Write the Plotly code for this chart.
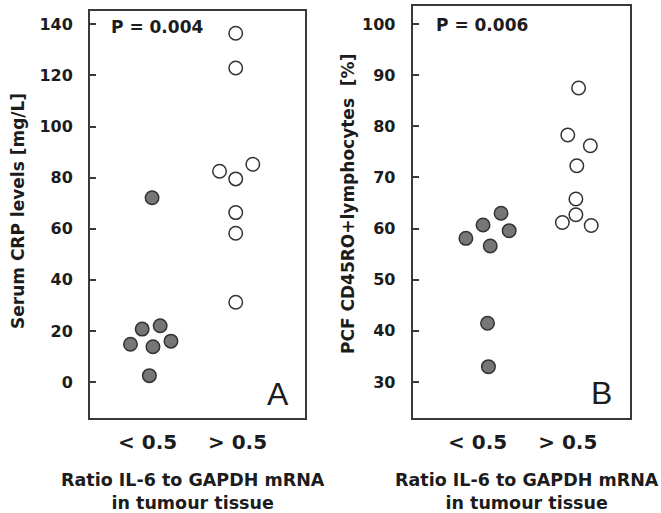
import plotly.graph_objects as go

W, H = 661, 513

categories = ["< 0.5", "> 0.5"]

# Panel A: Serum CRP levels [mg/L]
crp_low_x = [0.05, -0.06, 0.14, -0.19, 0.06, 0.26, 0.02]
crp_low_y = [72.1, 20.7, 22.0, 14.8, 13.8, 16.0, 2.5]
crp_high_x = [0.98, 0.98, 0.80, 0.98, 1.17, 0.98, 0.98, 0.98]
crp_high_y = [136.5, 122.9, 82.5, 79.5, 85.2, 66.3, 58.2, 31.2]

# Panel B: PCF CD45RO+ lymphocytes [%]
cd_low_x = [-0.13, 0.06, 0.26, 0.35, 0.14, 0.11, 0.12]
cd_low_y = [58.1, 60.7, 63.0, 59.6, 56.6, 41.5, 33.0]
cd_high_x = [1.12, 1.00, 1.25, 1.10, 1.09, 1.09, 0.94, 1.26]
cd_high_y = [87.5, 78.3, 76.2, 72.3, 65.8, 62.7, 61.2, 60.6]

crp_ticks = [0, 20, 40, 60, 80, 100, 120, 140]
cd_ticks = [30, 40, 50, 60, 70, 80, 90, 100]

FONT = "DejaVu Sans"
TXT = "#1c1c1c"
LINE = "#3a3a3a"

def px_x(p):
    return p / W

def px_y(p):
    return 1 - p / H

fig = go.Figure()

dark = dict(size=13.5, color="#767676", line=dict(color="#333333", width=1.5))
light = dict(size=13.5, color="white", line=dict(color="#333333", width=1.5))

fig.add_trace(go.Scatter(x=crp_low_x, y=crp_low_y, mode="markers", marker=dark,
                         xaxis="x", yaxis="y", showlegend=False))
fig.add_trace(go.Scatter(x=crp_high_x, y=crp_high_y, mode="markers", marker=light,
                         xaxis="x", yaxis="y", showlegend=False))
fig.add_trace(go.Scatter(x=cd_low_x, y=cd_low_y, mode="markers", marker=dark,
                         xaxis="x2", yaxis="y2", showlegend=False))
fig.add_trace(go.Scatter(x=cd_high_x, y=cd_high_y, mode="markers", marker=light,
                         xaxis="x2", yaxis="y2", showlegend=False))

xcommon = dict(showgrid=False, zeroline=False, showline=True, linecolor=LINE, linewidth=2,
               mirror=True, ticks="", tickvals=[0, 1], ticktext=categories,
               tickfont=dict(family=FONT, size=20, color=TXT, weight="bold"),
               ticklabelstandoff=5, automargin=False)
ycommon = dict(showgrid=False, zeroline=False, showline=True, linecolor=LINE, linewidth=2,
               mirror=True, ticks="inside", ticklen=6, tickwidth=2, tickcolor=LINE,
               tickfont=dict(family=FONT, size=16, color=TXT, weight="bold"),
               ticklabelstandoff=12, automargin=False)

fig.update_layout(
    width=W, height=H,
    margin=dict(l=0, r=0, t=0, b=0),
    paper_bgcolor="white", plot_bgcolor="white",
    xaxis=dict(domain=[px_x(90), px_x(305)], range=[-0.64, 1.75], anchor="y", **xcommon),
    yaxis=dict(domain=[px_y(418.3), px_y(11)], range=[-14.2, 145.2], anchor="x",
               tickvals=crp_ticks, **ycommon),
    xaxis2=dict(domain=[px_x(412.7), px_x(630)], range=[-0.72, 1.69], anchor="y2", **xcommon),
    yaxis2=dict(domain=[px_y(418.3), px_y(5.7)], range=[22.9, 103.6], anchor="x2",
                tickvals=cd_ticks, **ycommon),
)

annots = [
    dict(text="P = 0.004", x=px_x(156.5), y=px_y(26.5), size=17, bold=True),
    dict(text="P = 0.006", x=px_x(482), y=px_y(25), size=17, bold=True),
    dict(text="A", x=px_x(277.5), y=px_y(393.5), size=32, bold=False, fam="Liberation Sans"),
    dict(text="B", x=px_x(601.8), y=px_y(393), size=32, bold=False, fam="Liberation Sans"),
    dict(text="Ratio IL-6 to GAPDH mRNA<br>in tumour tissue", x=px_x(192.5), y=px_y(491),
         size=17.5, bold=True),
    dict(text="Ratio IL-6 to GAPDH mRNA<br>in tumour tissue", x=px_x(526.7), y=px_y(491),
         size=17.5, bold=True),
    dict(text="Serum CRP levels [mg/L]", x=px_x(18.5), y=px_y(211.5), size=17, bold=True, rot=-90),
    dict(text="PCF CD45RO+lymphocytes  [%]", x=px_x(348), y=px_y(204), size=17, bold=True, rot=-90),
]
for a in annots:
    fig.add_annotation(
        text=a["text"], x=a["x"], y=a["y"], xref="paper", yref="paper",
        xanchor="center", yanchor="middle", showarrow=False,
        textangle=a.get("rot", 0),
        font=dict(family=a.get("fam", FONT), size=a["size"], color=TXT,
                  weight="bold" if a["bold"] else "normal"),
    )

fig.write_html("out.html", config={"displayModeBar": False},
               post_script="document.body.style.margin='0';document.body.style.overflow='hidden';")
